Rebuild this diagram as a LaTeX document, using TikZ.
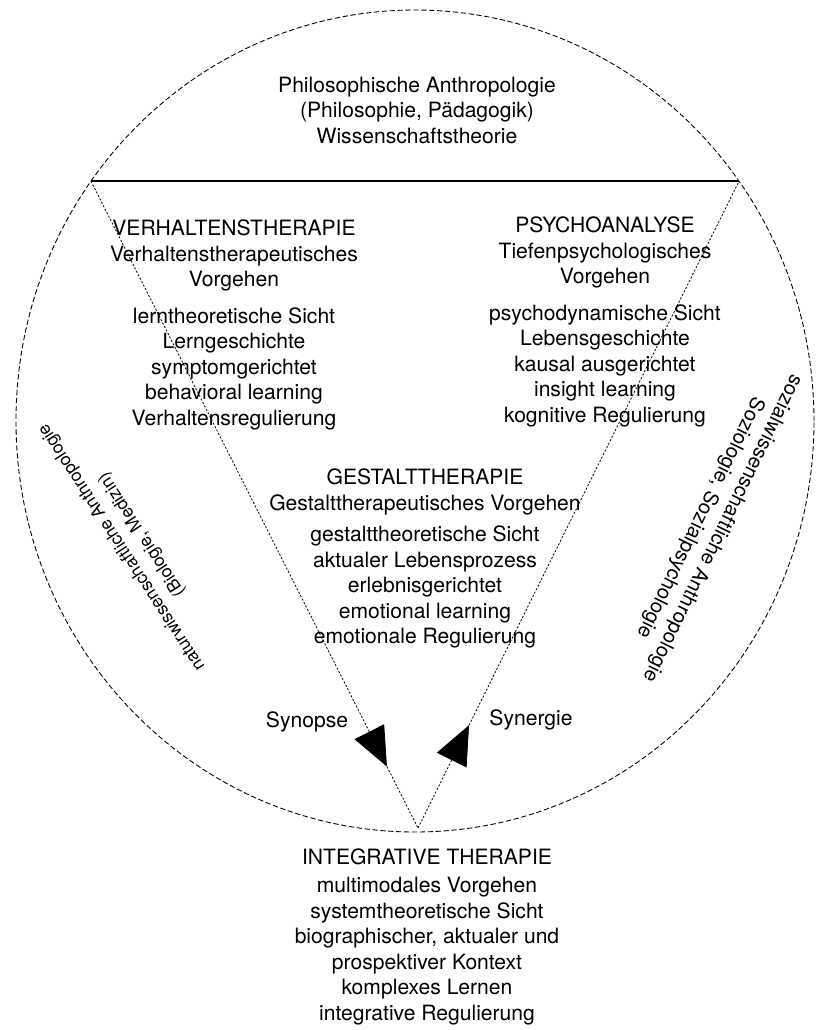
\documentclass[tikz,border=0pt]{standalone}
\usepackage{fontspec}
\setmainfont{TeX Gyre Heros}
\usetikzlibrary{arrows.meta,calc}

\tikzset{
	rim/.style = {line width=.5pt, dash pattern=on 3pt off 1.5pt},
	chord/.style = {line width=1pt},
	side/.style = {line width=.45pt, dash pattern=on 1.2pt off 1pt},
	synarrow/.style = {-{Triangle[length=7.8mm,width=6.6mm]}},
	txt/.style = {align=center, inner sep=0pt, font=\fontsize{12}{14.5}\selectfont}
}

\begin{document}
\begin{tikzpicture}
	\useasboundingbox (-8.30,-12.18) rectangle (8.00,8.42);
	\draw [rim] (0,0) ellipse [x radius=7.98, y radius=8.22];
	\coordinate (tl) at (144.3:7.98cm and 8.22cm);
	\coordinate (tr) at (35.7:7.98cm and 8.22cm);
	\coordinate (apex) at (0.06,-8.14);
	\coordinate (synL) at ($(tl)!0.905!(apex)$);
	\coordinate (synR) at ($(apex)!0.159!(tr)$);
	\draw [chord] (tl) -- (tr);
	\draw [side, synarrow] (tl) -- (synL);
	\draw [side] (synL) -- (apex);
	\draw [side, synarrow] (apex) -- (synR);
	\draw [side] (synR) -- (tr);

	\node [txt] (philo) at (0.04,6.22) {Philosophische Anthropologie\\(Philosophie, Pädagogik)\\Wissenschaftstheorie};
	\node [txt] (verhalten) at (-3.62,1.92) {VERHALTENSTHERAPIE\\Verhaltenstherapeutisches\\Vorgehen\\[0.22cm]lerntheoretische Sicht\\Lerngeschichte\\symptomgerichtet\\behavioral learning\\Verhaltensregulierung};
	\node [txt] (psycho) at (3.80,1.98) {PSYCHOANALYSE\\Tiefenpsychologisches\\Vorgehen\\[0.22cm]psychodynamische Sicht\\Lebensgeschichte\\kausal ausgerichtet\\insight learning\\kognitive Regulierung};
	\node [txt] (gestalt) at (0.20,-2.75) {GESTALTTHERAPIE\\Gestalttherapeutisches Vorgehen\\[0.12cm]gestalttheoretische Sicht\\aktualer Lebensprozess\\erlebnisgerichtet\\emotional learning\\emotionale Regulierung};
	\node [txt] (integrativ) at (0.24,-10.31) {INTEGRATIVE THERAPIE\\[0.06cm]multimodales Vorgehen\\systemtheoretische Sicht\\biographischer, aktualer und\\prospektiver Kontext\\komplexes Lernen\\integrative Regulierung};
	\node [txt] (synopse) at (-2.16,-6.02) {Synopse};
	\node [txt] (synergie) at (2.32,-5.98) {Synergie};
	\node [txt, rotate=123, font=\fontsize{10}{13.5}\selectfont] (natur) at (-5.66,-2.40) {naturwissenschaftliche Anthropologie\\(Biologie, Medizin)};
	\node [txt, rotate=-116, font=\fontsize{11.5}{14}\selectfont] (sozial) at (5.92,-2.04) {sozialwissenschaftliche Anthropologie\\Soziologie, Sozialpsychologie};
\end{tikzpicture}
\end{document}
